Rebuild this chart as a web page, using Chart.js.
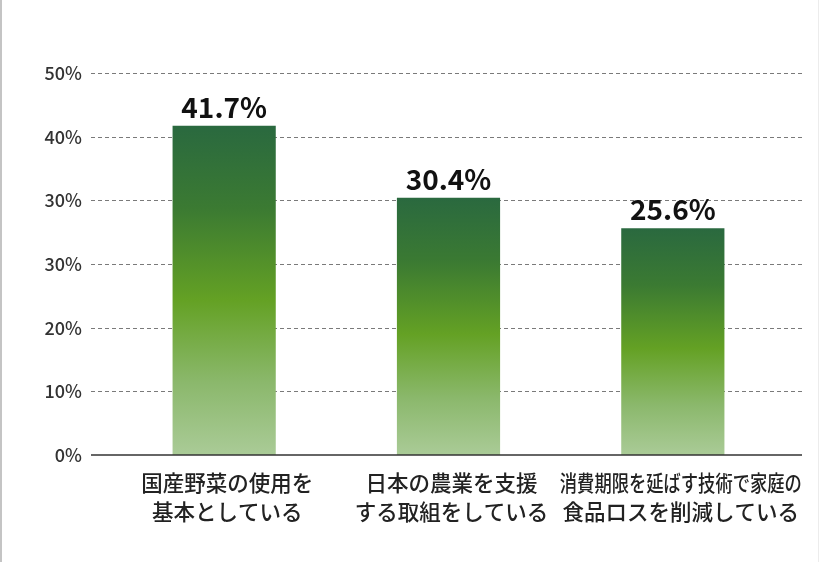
<!DOCTYPE html>
<html>
<head>
<meta charset="utf-8">
<script src="https://cdn.jsdelivr.net/npm/chart.js@4.4.1/dist/chart.umd.min.js"></script>
<style>
  html, body { margin: 0; padding: 0; background: #fff; }
  #wrap { position: relative; width: 820px; height: 562px; }
  #wrap::before { content: ""; position: absolute; left: 0; top: 0; width: 2px; height: 562px; background: #c4c4c4; }
  #wrap::after { content: ""; position: absolute; right: 1px; top: 0; width: 1px; height: 562px; background: #ececec; }
  canvas { display: block; }
</style>
</head>
<body>
<div id="wrap"><canvas id="c" width="820" height="562"></canvas></div>
<script>
// ---- data ----
const categories = [
  ["国産野菜の使用を", "基本としている"],
  ["日本の農業を支援", "する取組をしている"],
  ["消費期限を延ばす技術で家庭の", "食品ロスを削減している"]
];
// bar heights measured against the drawn gridlines (grid units, 10 per line)
const barHeights = [51.7, 40.4, 35.6];
// value labels printed above the bars
const valueLabels = ["41.7%", "30.4%", "25.6%"];
// y-axis tick labels as printed, bottom to top
const tickLabels = ["0%", "10%", "20%", "30%", "30%", "40%", "50%"];

const FONT = '"Noto Sans CJK JP", "Noto Sans", sans-serif';

function barGradient(context) {
  const chart = context.chart;
  const ys = chart.scales && chart.scales.y;
  if (!chart.chartArea || !ys) return '#5a9a2a';
  const v = context.raw;
  const top = ys.getPixelForValue(v);
  const base = ys.getPixelForValue(0);
  const g = chart.ctx.createLinearGradient(0, top, 0, base);
  g.addColorStop(0, '#2a693f');
  g.addColorStop(0.25, '#3b7a32');
  g.addColorStop(0.53, '#64a124');
  g.addColorStop(0.78, '#8bb86c');
  g.addColorStop(1, '#aacb97');
  return g;
}

const gridPlugin = {
  id: 'gridPlugin',
  beforeDatasetsDraw(chart) {
    const ys = chart.scales.y, a = chart.chartArea, ctx = chart.ctx;
    ctx.save();
    ctx.strokeStyle = '#7a7a7a';
    ctx.lineWidth = 1;
    ctx.setLineDash([4, 3]);
    ys.ticks.forEach(t => {
      if (t.value === 0) return;
      const y = Math.round(ys.getPixelForValue(t.value)) + 0.5;
      ctx.beginPath();
      ctx.moveTo(a.left - 21, y);
      ctx.lineTo(a.right + 17, y);
      ctx.stroke();
    });
    ctx.restore();
  },
  afterDatasetsDraw(chart) {
    const ys = chart.scales.y, xs = chart.scales.x, a = chart.chartArea, ctx = chart.ctx;
    ctx.save();
    // baseline
    const y0 = ys.getPixelForValue(0);
    ctx.strokeStyle = '#333';
    ctx.lineWidth = 1.6;
    ctx.beginPath();
    ctx.moveTo(a.left - 21, y0);
    ctx.lineTo(a.right + 17, y0);
    ctx.stroke();
    // value labels
    const meta = chart.getDatasetMeta(0);
    ctx.fillStyle = '#111';
    ctx.font = 'bold 28px ' + FONT;
    ctx.textAlign = 'center';
    ctx.textBaseline = 'alphabetic';
    meta.data.forEach((el, i) => {
      ctx.fillText(valueLabels[i], el.x, el.y - 8);
    });
    // category labels
    ctx.fillStyle = '#222';
    ctx.font = '500 21.5px ' + FONT;
    ctx.textBaseline = 'middle';
    categories.forEach((lines, i) => {
      const x = xs.getPixelForValue(i) + 3 + (i === 2 ? 5 : 0);
      lines.forEach((line, j) => {
        ctx.fillText(line, x, y0 + 28 + j * 29, 242);
      });
    });
    ctx.restore();
  }
};

new Chart(document.getElementById('c'), {
  type: 'bar',
  data: {
    labels: categories,
    datasets: [{
      data: barHeights,
      backgroundColor: barGradient,
      borderWidth: 0,
      barPercentage: 0.46,
      categoryPercentage: 1.0
    }]
  },
  options: {
    responsive: false,
    animation: false,
    devicePixelRatio: 1,
    layout: { padding: { top: 73, right: 35, bottom: 107, left: 0 } },
    plugins: { legend: { display: false }, tooltip: { enabled: false } },
    scales: {
      x: {
        display: false,
        offset: true
      },
      y: {
        min: 0,
        max: 60,
        afterFit(scale) { scale.width = 112; },
        grid: { display: false, drawTicks: false },
        border: { display: false },
        ticks: {
          stepSize: 10,
          padding: 30,
          color: '#333',
          font: { family: FONT, size: 18, weight: '500' },
          callback: (v, i) => tickLabels[i]
        }
      }
    }
  },
  plugins: [gridPlugin]
});
</script>
</body>
</html>
